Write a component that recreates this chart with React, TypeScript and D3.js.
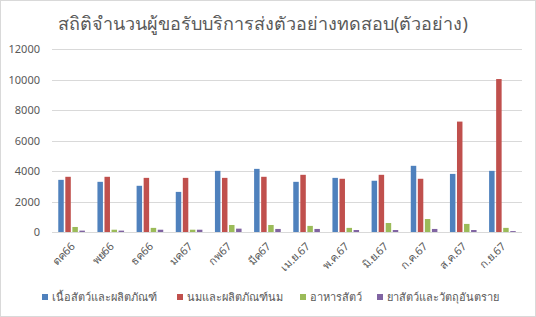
import React from "react";
import * as d3 from "d3";

const categories = ["ตค66", "พย66", "ธค66", "มค67", "กพ67", "มีค67", "เม.ย.67", "พ.ค.67", "มิ.ย.67", "ก.ค.67", "ส.ค.67", "ก.ย.67"];
const seriesNames = ["เนื้อสัตว์และผลิตภัณฑ์", "นมและผลิตภัณฑ์นม", "อาหารสัตว์", "ยาสัตว์และวัตถุอันตราย"];
const meat = [3420, 3290, 3030, 2630, 4010, 4140, 3290, 3550, 3360, 4340, 3810, 4010];
const milk = [3620, 3620, 3550, 3550, 3550, 3620, 3750, 3490, 3750, 3490, 7240, 10030];
const feed = [330, 150, 270, 150, 460, 460, 400, 270, 590, 850, 530, 270];
const drugs = [90, 90, 150, 150, 220, 200, 200, 130, 130, 200, 130, 60];
const yTicks = [0, 2000, 4000, 6000, 8000, 10000, 12000];
const colors = ["#4F81BD", "#C0504D", "#9BBB59", "#8064A2"];
const title = "สถิติจำนวนผู้ขอรับบริการส่งตัวอย่างทดสอบ(ตัวอย่าง)";

const W = 536;
const H = 317;
const FONT = "Tahoma, 'Noto Sans', 'DejaVu Sans', sans-serif";

export default function App() {
  const series = [meat, milk, feed, drugs];
  const left = 52, right = 522, top = 49, bottom = 232;
  const x = d3.scaleBand<string>().domain(categories).range([left, right]).padding(0);
  const y = d3.scaleLinear().domain([0, 12000]).range([bottom, top]);
  const step = x.bandwidth();
  const barW = step * 0.14;
  const barStep = step * 0.18;
  const groupW = barStep * 3 + barW;
  const legendX = [42, 177, 300, 377];
  return (
    <svg width={W} height={H} style={{ position: "fixed", left: 0, top: 0, background: "#fff" }} fontFamily={FONT}>
      <rect x={0.5} y={0.5} width={W - 1} height={H - 1} fill="#fff" stroke="#D9D9D9" />
      <text x={W / 2 - 5} y={30} textAnchor="middle" fontSize={18} fill="#595959">{title}</text>
      {yTicks.map((t) => (
        <g key={t}>
          <line x1={left} x2={right} y1={Math.round(y(t)) + 0.5} y2={Math.round(y(t)) + 0.5} stroke="#D9D9D9" />
          <text x={40} y={y(t) + 4} textAnchor="end" fontSize={11} fill="#595959">{t}</text>
        </g>
      ))}
      {categories.map((c, i) => {
        const x0 = (x(c) as number) + (step - groupW) / 2;
        return (
          <g key={c}>
            {series.map((s, j) => (
              <rect key={j} x={x0 + j * barStep} y={y(s[i])} width={barW} height={bottom - y(s[i])} fill={colors[j]} />
            ))}
            <text
              transform={`translate(${(x(c) as number) + step / 2 + 4},${bottom + 15}) rotate(-45)`}
              textAnchor="end"
              fontSize={11}
              fill="#595959"
            >
              {c}
            </text>
          </g>
        );
      })}
      {seriesNames.map((n, j) => (
        <g key={n}>
          <rect x={legendX[j]} y={294} width={6} height={6} fill={colors[j]} />
          <text x={legendX[j] + 10} y={301} fontSize={11} fill="#595959">{n}</text>
        </g>
      ))}
    </svg>
  );
}
